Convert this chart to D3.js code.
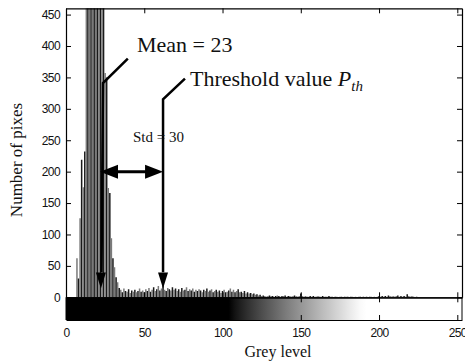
<!DOCTYPE html>
<html>
<head>
<meta charset="utf-8">
<script src="https://cdn.jsdelivr.net/npm/d3@7"></script>
<style>
  body { margin: 0; background: #fff; }
  svg { display: block; }
  .tick text { font-family: "Liberation Sans", Arial, sans-serif; font-size: 12px; letter-spacing: -0.6px; fill: #111; }
</style>
</head>
<body>
<div id="chart"></div>
<script>
// pixel counts per grey level 0..255
const counts = [
  0, 0, 0, 0, 0, 0, 0,
  62, 30, 126, 219, 175, 232,
  520, 600, 680, 750, 800, 820, 780, 720, 650, 580, 520, 480,
  357, 350, 174, 166, 94, 62, 48, 32, 24, 15,
  12, 8, 14, 10, 9, 13, 7, 11, 9, 12, 8, 10, 14, 9, 11, 8, 13, 10, 15, 9,
  12, 16, 10, 13, 18, 11, 14, 19, 12, 10, 15, 13, 11, 16, 12, 14, 10, 13, 9, 15,
  11, 12, 16, 10, 13, 11, 14, 9, 12, 10, 13, 11, 8, 12, 10, 14, 9, 11, 13, 8,
  10, 12, 9, 11, 7, 10, 12, 8, 9, 11, 14, 9, 12, 8, 10, 13, 8, 9, 7, 10,
  6, 8, 6, 7, 5, 6, 4, 5, 3, 4,
  2, 3, 2, 1, 2, 3, 2, 2, 1, 2, 3, 2, 1, 2, 2, 3, 1, 2, 2, 1, 2, 3, 2, 1, 2,
  6,
  2, 1, 2, 1, 1, 2, 1, 2, 1, 1, 2, 1, 1, 2, 1, 1, 1, 2, 1, 1, 0, 1, 1, 0, 1, 1, 0, 1, 1,
  1, 0, 1, 1, 0, 1, 0, 1, 1, 0, 1, 0, 1, 0, 1, 1, 0, 1, 0, 1,
  2, 1, 2, 1, 2, 1, 3, 2, 1, 2, 1, 2, 3, 1, 2, 1, 2, 1, 5, 2, 1, 2, 1, 0, 1, 0,
  0, 0, 0, 0, 0, 0, 0, 0, 0, 0, 0, 0, 0, 0, 0, 0, 0, 0, 0, 0, 0, 0, 0, 0, 0, 0, 0, 0, 0, 0
];
const greyLevels = counts.map((c, i) => i);
const xTicks = [0, 50, 100, 150, 200, 250];
const yTicks = [0, 50, 100, 150, 200, 250, 300, 350, 400, 450];
const meanValue = 23;
const stdValue = 30;
const thresholdValue = 62;

const [W, H] = [465, 363];
const [mLeft, mRight, mTop, histBottom, cbBottom] = [66, 462, 8.3, 297.3, 320];
const serif = '"Liberation Serif", "Times New Roman", serif';

const svg = d3.select('#chart').append('svg')
  .attr('width', W).attr('height', H);

const x = d3.scaleLinear().domain([0, 253]).range([mLeft, mRight]);
const y = d3.scaleLinear().domain([0, 460]).range([histBottom, mTop]);

// colour of the grey-level bar under the histogram
function cbColour(v) {
  const t = Math.max(0, Math.min(1, (v - 104) / 86));
  const g = Math.round(255 * Math.pow(t, 0.85));
  return `rgb(${g},${g},${g})`;
}

const defs = svg.append('defs');
defs.append('clipPath').attr('id', 'histClip')
  .append('rect').attr('x', mLeft).attr('y', mTop)
  .attr('width', mRight - mLeft).attr('height', histBottom - mTop);

const grad = defs.append('linearGradient').attr('id', 'greyBar')
  .attr('gradientUnits', 'userSpaceOnUse')
  .attr('x1', x(0)).attr('x2', x(255)).attr('y1', 0).attr('y2', 0);
grad.selectAll('stop')
  .data(greyLevels.filter(d => d % 4 === 0 || d === 255))
  .join('stop')
  .attr('offset', d => d / 255)
  .attr('stop-color', d => cbColour(d));

// grey-level bar
svg.append('rect')
  .attr('x', x(0)).attr('y', histBottom)
  .attr('width', x(253) - x(0)).attr('height', cbBottom - histBottom)
  .attr('fill', 'url(#greyBar)');

// histogram stems
svg.append('g').attr('clip-path', 'url(#histClip)')
  .selectAll('line')
  .data(greyLevels.filter(d => counts[d] > 0))
  .join('line')
  .attr('x1', d => x(d)).attr('x2', d => x(d))
  .attr('y1', y(0))
  .attr('y2', d => y(Math.min(counts[d], 470)))
  .attr('stroke', d => d % 2 ? '#7a7a7a' : '#1a1a1a')
  .attr('stroke-width', 1.5);

// axes (MATLAB-style box with inward ticks)
const noLabel = () => '';
svg.append('g').attr('transform', `translate(${mLeft},0)`)
  .call(d3.axisLeft(y).tickValues(yTicks).tickSizeInner(-5).tickSizeOuter(0).tickPadding(6));
svg.append('g').attr('transform', `translate(${mRight},0)`)
  .call(d3.axisRight(y).tickValues(yTicks).tickSizeInner(-5).tickSizeOuter(0).tickFormat(noLabel));
svg.append('g').attr('transform', `translate(0,${mTop})`)
  .call(d3.axisTop(x).tickValues(xTicks).tickSizeInner(-5).tickSizeOuter(0).tickFormat(noLabel));
svg.append('g').attr('transform', `translate(0,${histBottom})`)
  .call(d3.axisBottom(x).tickValues(xTicks).tickSizeInner(-5).tickSizeOuter(0).tickFormat(noLabel));
svg.append('g').attr('transform', `translate(0,${histBottom})`)
  .call(d3.axisTop(x).tickValues(xTicks).tickSizeInner(-5).tickSizeOuter(0).tickFormat(noLabel));
svg.append('g').attr('transform', `translate(0,${cbBottom})`)
  .call(d3.axisBottom(x).tickValues(xTicks).tickSizeInner(-5).tickSizeOuter(0).tickPadding(8));
svg.append('line')
  .attr('x1', mLeft).attr('x2', mLeft).attr('y1', histBottom).attr('y2', cbBottom)
  .attr('stroke', '#000');
svg.append('line')
  .attr('x1', mRight).attr('x2', mRight).attr('y1', histBottom).attr('y2', cbBottom)
  .attr('stroke', '#000');
svg.selectAll('.domain').attr('stroke', '#000').attr('stroke-width', 1.2);
svg.selectAll('.tick line').attr('stroke', '#000');

// axis titles
svg.append('text')
  .attr('font-family', serif).attr('fill', '#111')
  .attr('x', 278).attr('y', 357)
  .attr('text-anchor', 'middle').attr('font-size', 16)
  .text('Grey level');
svg.append('text')
  .attr('font-family', serif).attr('fill', '#111')
  .attr('transform', 'translate(22,160) rotate(-90)')
  .attr('text-anchor', 'middle').attr('font-size', 17)
  .text('Number of pixes');

// annotations
const ann = svg.append('g').attr('font-family', serif).attr('fill', '#111');
const stroke = '#000';
function downArrow(v) {
  const cx = x(v), tip = y(14);
  ann.append('path')
    .attr('d', `M${cx - 5},${tip - 16}L${cx + 5},${tip - 16}L${cx},${tip}Z`)
    .attr('fill', stroke);
}
// mean pointer
ann.append('path')
  .attr('d', `M${x(39.5)},${y(380)}L${x(meanValue) + 1},${y(341)}L${x(meanValue) - 0.5},${y(40)}`)
  .attr('fill', 'none').attr('stroke', stroke).attr('stroke-width', 2.5);
downArrow(meanValue - 0.7);
// threshold pointer
ann.append('path')
  .attr('d', `M${x(76)},${y(348)}L${x(thresholdValue)},${y(315)}L${x(thresholdValue)},${y(40)}`)
  .attr('fill', 'none').attr('stroke', stroke).attr('stroke-width', 2.5);
downArrow(thresholdValue);
// std double arrow
const ay = y(200);
const xa = x(meanValue) - 2, xb = x(thresholdValue);
ann.append('line')
  .attr('x1', xa + 10).attr('x2', xb - 10).attr('y1', ay).attr('y2', ay)
  .attr('stroke', stroke).attr('stroke-width', 3);
ann.append('path')
  .attr('d', `M${xa},${ay}L${xa + 18},${ay - 7}L${xa + 18},${ay + 7}Z`)
  .attr('fill', stroke);
ann.append('path')
  .attr('d', `M${xb},${ay}L${xb - 18},${ay - 7}L${xb - 18},${ay + 7}Z`)
  .attr('fill', stroke);

ann.append('text')
  .attr('x', 137).attr('y', 52).attr('font-size', 22)
  .text(`Mean = ${meanValue}`);
const th = ann.append('text')
  .attr('x', 190).attr('y', 86).attr('font-size', 22);
th.append('tspan').text('Threshold value ');
th.append('tspan').attr('font-style', 'italic').text('P');
th.append('tspan').attr('font-style', 'italic').attr('font-size', 15)
  .attr('dy', 5).text('th');
ann.append('text')
  .attr('x', 133).attr('y', 142).attr('font-size', 15)
  .text(`Std = ${stdValue}`);
</script>
</body>
</html>
